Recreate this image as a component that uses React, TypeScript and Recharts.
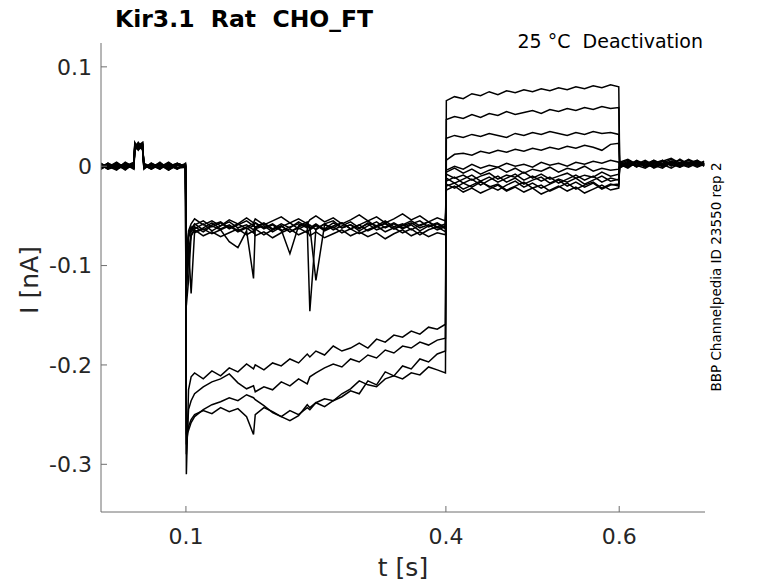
import { Line, LineChart, XAxis, YAxis } from "recharts";

// Deactivation protocol, Kir3.1 (rat) in CHO_FT cells, 25 °C.
// Each sweep is split into four segments: holding, pre-pulse, tail, return.

const tBase = [0.002, 0.01, 0.02, 0.03, 0.04, 0.041, 0.045, 0.05, 0.0515, 0.06, 0.07, 0.08, 0.09, 0.0995];
const tStep = [
  0.1005, 0.103, 0.106, 0.11, 0.12, 0.13, 0.14, 0.15, 0.16, 0.17, 0.178, 0.18, 0.19, 0.2, 0.21, 0.22, 0.23,
  0.24, 0.243, 0.25, 0.26, 0.27, 0.28, 0.29, 0.3, 0.31, 0.32, 0.33, 0.34, 0.35, 0.36, 0.37, 0.38, 0.39, 0.3995,
];
const tTail = [
  0.4005, 0.41, 0.42, 0.43, 0.44, 0.45, 0.46, 0.47, 0.48, 0.49, 0.5, 0.51, 0.52, 0.53, 0.54, 0.55, 0.56, 0.57,
  0.58, 0.59, 0.5995,
];
const tEnd = [0.6005, 0.61, 0.62, 0.63, 0.64, 0.65, 0.66, 0.67, 0.68, 0.69, 0.698];

const xTicks = [0.1, 0.4, 0.6];
const yTicks = [-0.3, -0.2, -0.1, 0, 0.1];

// currents in nA, one array per segment
const sweep0 = [
  [0.002, -0.003, 0.003, -0.002, 0.001, 0.021, 0.017, 0.023, 0.002, -0.003, 0.002, -0.001, 0.003, 0.0],
  [-0.31, -0.225, -0.212, -0.208, -0.214, -0.206, -0.211, -0.203, -0.207, -0.199, -0.204, -0.2, -0.205, -0.198,
    -0.201, -0.194, -0.198, -0.189, -0.192, -0.186, -0.19, -0.181, -0.186, -0.183, -0.178, -0.183, -0.174, -0.177,
    -0.17, -0.172, -0.166, -0.169, -0.162, -0.164, -0.159],
  [0.066, 0.07, 0.068, 0.073, 0.071, 0.075, 0.072, 0.076, 0.074, 0.077, 0.075, 0.078, 0.076, 0.079, 0.077, 0.08,
    0.078, 0.081, 0.079, 0.082, 0.08],
  [0.004, 0.007, 0.002, 0.006, 0.001, 0.005, 0.008, 0.003, 0.006, 0.002, 0.005],
];
const sweep1 = [
  [-0.002, 0.003, -0.001, 0.002, -0.003, 0.019, 0.024, 0.018, -0.001, 0.002, -0.003, 0.003, -0.002, 0.001],
  [-0.29, -0.245, -0.236, -0.229, -0.222, -0.217, -0.214, -0.209, -0.218, -0.224, -0.221, -0.227, -0.222, -0.225,
    -0.217, -0.221, -0.214, -0.219, -0.212, -0.208, -0.203, -0.199, -0.202, -0.194, -0.197, -0.19, -0.193, -0.185,
    -0.188, -0.181, -0.183, -0.177, -0.18, -0.175, -0.173],
  [0.047, 0.05, 0.048, 0.052, 0.049, 0.053, 0.051, 0.055, 0.052, 0.054, 0.056, 0.053, 0.057, 0.055, 0.058, 0.056,
    0.059, 0.057, 0.06, 0.058, 0.059],
  [0.002, -0.002, 0.004, 0.0, 0.005, -0.001, 0.003, 0.006, 0.001, 0.004, 0.0],
];
const sweep2 = [
  [0.001, -0.002, 0.002, -0.004, 0.003, 0.022, 0.018, 0.021, 0.0, -0.002, 0.004, -0.003, 0.001, -0.001],
  [-0.28, -0.262, -0.255, -0.25, -0.246, -0.249, -0.243, -0.247, -0.244, -0.252, -0.27, -0.25, -0.243, -0.247,
    -0.252, -0.256, -0.251, -0.24, -0.243, -0.238, -0.242, -0.236, -0.232, -0.226, -0.229, -0.216, -0.22, -0.207,
    -0.211, -0.201, -0.204, -0.194, -0.197, -0.189, -0.186],
  [0.028, 0.031, 0.029, 0.032, 0.03, 0.033, 0.031, 0.029, 0.033, 0.031, 0.034, 0.032, 0.035, 0.033, 0.031, 0.034,
    0.032, 0.035, 0.033, 0.034, 0.032],
  [-0.001, 0.003, 0.0, 0.004, -0.002, 0.002, 0.005, 0.0, 0.003, -0.001, 0.002],
];
const sweep3 = [
  [-0.003, 0.001, -0.001, 0.003, -0.002, 0.017, 0.022, 0.02, 0.003, -0.001, 0.001, -0.004, 0.002, 0.001],
  [-0.27, -0.266, -0.258, -0.252, -0.245, -0.24, -0.237, -0.233, -0.236, -0.23, -0.233, -0.235, -0.241, -0.248,
    -0.252, -0.246, -0.25, -0.243, -0.245, -0.238, -0.234, -0.236, -0.229, -0.224, -0.216, -0.22, -0.222, -0.214,
    -0.211, -0.214, -0.208, -0.21, -0.202, -0.205, -0.208],
  [0.006, 0.012, 0.013, 0.011, 0.015, 0.013, 0.016, 0.014, 0.017, 0.015, 0.018, 0.016, 0.019, 0.017, 0.02, 0.018,
    0.021, 0.019, 0.016, 0.022, 0.023],
  [0.003, 0.0, 0.005, 0.002, 0.006, 0.001, 0.004, 0.002, 0.007, 0.003, 0.001],
];
const sweep4 = [
  [0.002, -0.001, 0.004, -0.002, 0.001, 0.02, 0.023, 0.016, -0.002, 0.003, -0.002, 0.002, -0.003, 0.002],
  [-0.14, -0.115, -0.07, -0.063, -0.058, -0.065, -0.06, -0.056, -0.062, -0.059, -0.064, -0.061, -0.057, -0.063,
    -0.058, -0.062, -0.056, -0.061, -0.059, -0.064, -0.058, -0.055, -0.062, -0.059, -0.063, -0.057, -0.06, -0.055,
    -0.061, -0.058, -0.064, -0.059, -0.056, -0.062, -0.06],
  [-0.004, 0.0, -0.003, 0.002, -0.002, 0.001, -0.001, 0.003, 0.0, 0.002, -0.001, 0.004, 0.001, 0.003, 0.0, 0.004,
    0.002, 0.005, 0.003, 0.006, 0.004],
  [0.001, 0.005, -0.001, 0.004, 0.0, 0.006, 0.002, -0.001, 0.004, 0.001, 0.003],
];
const sweep5 = [
  [-0.001, 0.003, -0.003, 0.001, -0.001, 0.023, 0.019, 0.022, 0.001, -0.003, 0.002, 0.0, 0.003, -0.002],
  [-0.13, -0.08, -0.128, -0.066, -0.062, -0.057, -0.063, -0.059, -0.065, -0.061, -0.058, -0.063, -0.06, -0.066,
    -0.061, -0.057, -0.063, -0.059, -0.062, -0.058, -0.064, -0.06, -0.057, -0.063, -0.059, -0.065, -0.061, -0.058,
    -0.063, -0.06, -0.057, -0.062, -0.059, -0.064, -0.061],
  [-0.008, -0.012, -0.009, -0.014, -0.01, -0.007, -0.013, -0.009, -0.011, -0.006, -0.012, -0.008, -0.013, -0.01,
    -0.007, -0.012, -0.009, -0.011, -0.006, -0.01, -0.008],
  [0.004, 0.0, 0.006, 0.002, -0.001, 0.005, 0.001, 0.007, 0.002, 0.005, 0.0],
];
const sweep6 = [
  [0.003, -0.002, 0.001, -0.003, 0.002, 0.018, 0.021, 0.024, -0.001, 0.001, -0.003, 0.003, -0.001, 0.0],
  [-0.12, -0.095, -0.066, -0.061, -0.066, -0.06, -0.064, -0.076, -0.082, -0.065, -0.113, -0.062, -0.058, -0.064,
    -0.06, -0.066, -0.061, -0.058, -0.064, -0.06, -0.063, -0.057, -0.062, -0.059, -0.065, -0.06, -0.056, -0.062,
    -0.058, -0.063, -0.059, -0.065, -0.06, -0.057, -0.062],
  [-0.015, -0.011, -0.017, -0.013, -0.019, -0.014, -0.01, -0.016, -0.012, -0.018, -0.014, -0.011, -0.017, -0.013,
    -0.016, -0.012, -0.018, -0.014, -0.01, -0.015, -0.013],
  [-0.002, 0.003, 0.0, 0.005, 0.001, -0.002, 0.004, 0.0, 0.006, 0.002, 0.004],
];
const sweep7 = [
  [0.0, 0.002, -0.003, 0.004, -0.001, 0.021, 0.017, 0.019, 0.002, -0.002, 0.003, -0.002, 0.002, 0.001],
  [-0.1, -0.072, -0.063, -0.058, -0.064, -0.059, -0.056, -0.062, -0.058, -0.063, -0.06, -0.057, -0.063, -0.059,
    -0.065, -0.061, -0.058, -0.062, -0.146, -0.063, -0.058, -0.064, -0.06, -0.056, -0.062, -0.058, -0.064, -0.061,
    -0.057, -0.062, -0.058, -0.055, -0.061, -0.058, -0.063],
  [-0.02, -0.017, -0.023, -0.019, -0.015, -0.021, -0.018, -0.024, -0.02, -0.016, -0.022, -0.019, -0.025, -0.021,
    -0.017, -0.023, -0.019, -0.016, -0.022, -0.018, -0.02],
  [0.002, -0.001, 0.004, 0.001, 0.006, 0.002, -0.002, 0.003, 0.0, 0.005, 0.002],
];
const sweep8 = [
  [-0.002, 0.001, 0.002, -0.001, 0.003, 0.016, 0.02, 0.022, 0.0, 0.002, -0.001, 0.004, -0.002, -0.001],
  [-0.11, -0.07, -0.064, -0.059, -0.055, -0.061, -0.057, -0.063, -0.059, -0.055, -0.06, -0.057, -0.062, -0.058,
    -0.064, -0.088, -0.06, -0.056, -0.061, -0.115, -0.059, -0.062, -0.057, -0.063, -0.059, -0.055, -0.061, -0.057,
    -0.063, -0.059, -0.055, -0.06, -0.056, -0.061, -0.058],
  [-0.024, -0.02, -0.026, -0.022, -0.027, -0.023, -0.019, -0.025, -0.021, -0.026, -0.022, -0.028, -0.024, -0.02,
    -0.025, -0.021, -0.027, -0.023, -0.019, -0.024, -0.022],
  [0.0, 0.004, 0.001, -0.002, 0.003, 0.0, 0.005, 0.002, -0.001, 0.003, 0.001],
];
const sweep9 = [
  [0.001, -0.003, 0.0, 0.002, -0.002, 0.019, 0.022, 0.017, -0.002, 0.001, 0.002, -0.002, 0.003, 0.0],
  [-0.09, -0.068, -0.061, -0.067, -0.063, -0.068, -0.064, -0.06, -0.066, -0.062, -0.067, -0.063, -0.069, -0.064,
    -0.06, -0.066, -0.062, -0.067, -0.063, -0.059, -0.065, -0.061, -0.067, -0.063, -0.068, -0.064, -0.06, -0.066,
    -0.062, -0.067, -0.063, -0.069, -0.064, -0.061, -0.066],
  [-0.012, -0.017, -0.013, -0.009, -0.015, -0.011, -0.016, -0.012, -0.008, -0.014, -0.01, -0.015, -0.011, -0.017,
    -0.013, -0.009, -0.014, -0.01, -0.016, -0.012, -0.014],
  [0.003, 0.006, 0.001, 0.004, -0.001, 0.003, 0.007, 0.001, 0.004, 0.0, 0.003],
];
const sweep10 = [
  [-0.003, 0.002, -0.002, 0.0, 0.004, 0.024, 0.018, 0.021, 0.001, -0.001, 0.003, -0.004, 0.001, 0.002],
  [-0.1, -0.065, -0.058, -0.053, -0.059, -0.055, -0.06, -0.054, -0.058, -0.052, -0.057, -0.053, -0.059, -0.055,
    -0.051, -0.057, -0.053, -0.058, -0.054, -0.05, -0.056, -0.052, -0.058, -0.054, -0.049, -0.055, -0.051, -0.057,
    -0.053, -0.048, -0.054, -0.05, -0.056, -0.052, -0.055],
  [-0.006, -0.002, -0.007, -0.003, -0.008, -0.004, -0.001, -0.006, -0.002, -0.007, -0.003, -0.005, -0.001, -0.006,
    -0.002, -0.004, 0.0, -0.005, -0.002, -0.004, -0.003],
  [0.005, 0.001, 0.004, -0.001, 0.003, 0.006, 0.0, 0.004, 0.002, 0.006, 0.001],
];
const sweep11 = [
  [0.002, 0.0, -0.004, 0.003, 0.0, 0.02, 0.016, 0.023, -0.003, 0.003, -0.001, 0.001, -0.003, 0.003],
  [-0.12, -0.085, -0.07, -0.064, -0.07, -0.066, -0.071, -0.067, -0.063, -0.069, -0.065, -0.07, -0.066, -0.072,
    -0.067, -0.063, -0.069, -0.065, -0.07, -0.066, -0.072, -0.068, -0.064, -0.07, -0.066, -0.071, -0.067, -0.073,
    -0.068, -0.064, -0.07, -0.066, -0.071, -0.067, -0.069],
  [-0.018, -0.022, -0.017, -0.021, -0.016, -0.02, -0.024, -0.019, -0.015, -0.021, -0.017, -0.022, -0.018, -0.014,
    -0.02, -0.016, -0.021, -0.017, -0.023, -0.019, -0.018],
  [-0.001, 0.002, 0.005, 0.0, 0.004, 0.001, 0.005, -0.001, 0.003, 0.006, 0.002],
];

const segmentTimes = [tBase, tStep, tTail, tEnd];
const sweeps = [sweep0, sweep1, sweep2, sweep3, sweep4, sweep5, sweep6, sweep7, sweep8, sweep9, sweep10, sweep11];

const rows = segmentTimes.flatMap((times, s) =>
  times.map((t, i) => {
    const row: Record<string, number> = { t };
    sweeps.forEach((sw, k) => {
      row[`s${k}`] = sw[s][i];
    });
    return row;
  })
);

const W = 778;
const H = 583;
const PLOT_LEFT = 101;
const PLOT_BOTTOM = 512;
const INK = "#262626";
const AXIS = "#6e6e6e";
const FONT = "'DejaVu Sans', sans-serif";

function XTick({ x, y, payload }: any) {
  return (
    <g>
      <line x1={x} x2={x} y1={PLOT_BOTTOM} y2={PLOT_BOTTOM - 6} stroke={AXIS} />
      <text x={x} y={y + 32} textAnchor="middle" fontSize={22} fill={INK}>
        {String(payload.value)}
      </text>
    </g>
  );
}

function YTick({ x, y, payload }: any) {
  return (
    <g>
      <line x1={PLOT_LEFT} x2={PLOT_LEFT + 6} y1={y} y2={y} stroke={AXIS} />
      <text x={x} y={y} dy="0.36em" textAnchor="end" fontSize={22} fill={INK}>
        {String(payload.value)}
      </text>
    </g>
  );
}

export default function App() {
  return (
    <div style={{ position: "absolute", left: 0, top: 0, width: W, height: H, background: "#fff", fontFamily: FONT }}>
      <LineChart width={W} height={H} data={rows} margin={{ top: 43, right: 73, bottom: 0, left: 0 }}>
        <XAxis
          dataKey="t"
          type="number"
          domain={[0.002, 0.699]}
          allowDataOverflow
          ticks={xTicks}
          tick={<XTick />}
          tickLine={false}
          tickSize={0}
          tickMargin={0}
          height={71}
          axisLine={{ stroke: AXIS }}
          label={{ value: "t [s]", position: "insideBottom", offset: 7, fontSize: 25, fill: INK }}
        />
        <YAxis
          type="number"
          domain={[-0.348, 0.124]}
          allowDataOverflow
          ticks={yTicks}
          tick={<YTick />}
          tickLine={false}
          tickSize={0}
          tickMargin={9}
          width={PLOT_LEFT}
          axisLine={{ stroke: AXIS }}
          label={{
            content: () => (
              <text x={38} y={280} transform="rotate(-90 38 280)" textAnchor="middle" fontSize={25} fill={INK}>
                I [nA]
              </text>
            ),
          }}
        />
        {sweeps.map((_, k) => (
          <Line
            key={k}
            dataKey={`s${k}`}
            type="linear"
            stroke="#000"
            strokeWidth={1.5}
            dot={false}
            activeDot={false}
            isAnimationActive={false}
          />
        ))}
      </LineChart>
      <svg width={W} height={H} style={{ position: "absolute", left: 0, top: 0, pointerEvents: "none" }}>
        <text x={115} y={27} fontSize={23.5} fontWeight="bold" fill="#000" style={{ whiteSpace: "pre" }}>
          {"Kir3.1  Rat  CHO_FT"}
        </text>
        <text x={703} y={48} fontSize={19} textAnchor="end" fill="#000" style={{ whiteSpace: "pre" }}>
          {"25 °C  Deactivation"}
        </text>
        <text x={721} y={277} transform="rotate(-90 721 277)" textAnchor="middle" fontSize={13.5} fill="#000">
          BBP Channelpedia ID 23550 rep 2
        </text>
      </svg>
    </div>
  );
}
